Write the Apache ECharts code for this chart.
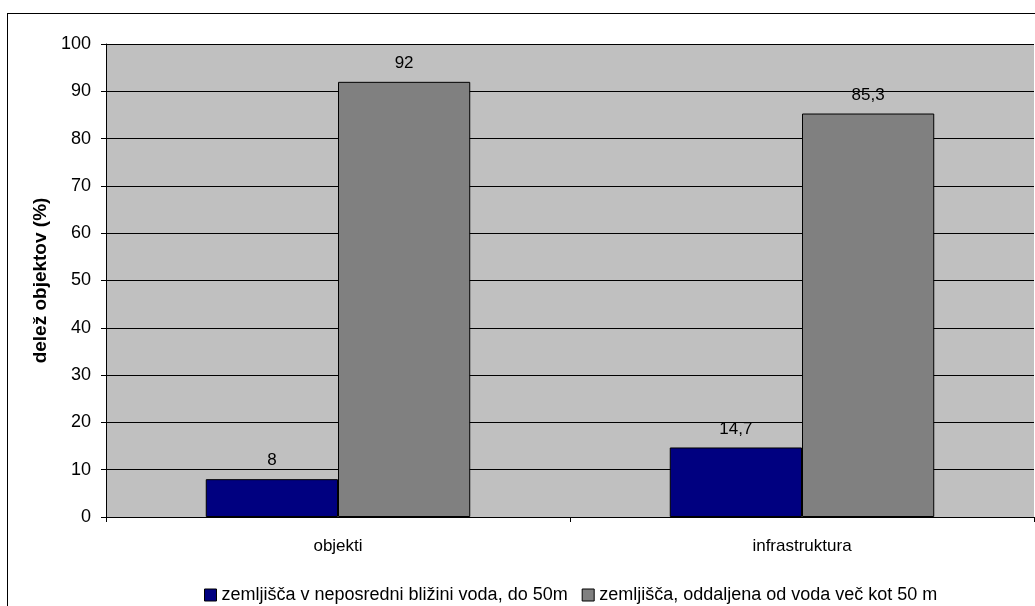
<!DOCTYPE html>
<html>
<head>
<meta charset="utf-8">
<script src="https://cdn.jsdelivr.net/npm/echarts@6/dist/echarts.min.js"></script>
<style>
  html, body { margin: 0; padding: 0; background: #fff; overflow: hidden; }
  #chart { width: 1035px; height: 606px; }
  #frame { position: absolute; left: 7px; top: 13px; width: 1100px; height: 700px; border: 1px solid #000; box-sizing: border-box; pointer-events: none; }
</style>
</head>
<body>
<div id="chart"></div>
<div id="frame"></div>
<script>
var categories = ["objekti", "infrastruktura"];
var seriesNames = ["zemljišča v neposredni bližini voda, do 50m", "zemljišča, oddaljena od voda več kot 50 m"];
var nearValues = [8, 14.7];
var farValues = [92, 85.3];

var dom = document.getElementById("chart");
var myChart = echarts.init(dom);

var fmt = function (p) { return String(p.value).replace(".", ","); };

var option = {
    animation: false,
    textStyle: { fontFamily: "Liberation Sans, Arial, sans-serif" },
    grid: { left: 106, top: 44, right: 1, bottom: 89, show: true, backgroundColor: "#c0c0c0", borderWidth: 0 },
    legend: {
        top: 586,
        left: 204,
        padding: 0,
        itemWidth: 12,
        itemHeight: 12,
        itemGap: 14,
        icon: "rect",
        data: seriesNames,
        itemStyle: { borderColor: "#000", borderWidth: 1 },
        textStyle: { color: "#000", fontSize: 18 }
    },
    xAxis: {
        type: "category",
        data: categories,
        axisLine: { lineStyle: { color: "#000", width: 1 } },
        axisTick: { show: true, length: 5, lineStyle: { color: "#000" } },
        axisLabel: { color: "#000", fontSize: 17, margin: 21 }
    },
    yAxis: {
        type: "value",
        min: 0,
        max: 100,
        interval: 10,
        name: "delež objektov (%)",
        nameLocation: "middle",
        nameGap: 55,
        nameTextStyle: { color: "#000", fontSize: 19, fontWeight: "bold" },
        axisLine: { show: true, lineStyle: { color: "#000" } },
        axisTick: { show: true, length: 5, lineStyle: { color: "#000" } },
        axisLabel: { color: "#000", fontSize: 18, margin: 15 },
        splitLine: { lineStyle: { color: "#000", width: 1 } }
    },
    series: [{
        name: seriesNames[0],
        type: "bar",
        data: nearValues,
        barGap: "0%",
        barCategoryGap: "43%",
        itemStyle: { color: "#000080", borderColor: "#000", borderWidth: 1 },
        label: { show: true, position: "top", distance: 10, color: "#000", fontSize: 17, formatter: fmt }
    }, {
        name: seriesNames[1],
        type: "bar",
        data: farValues,
        itemStyle: { color: "#808080", borderColor: "#000", borderWidth: 1 },
        label: { show: true, position: "top", distance: 10, color: "#000", fontSize: 17, formatter: fmt }
    }]
};
myChart.setOption(option);
</script>
</body>
</html>
